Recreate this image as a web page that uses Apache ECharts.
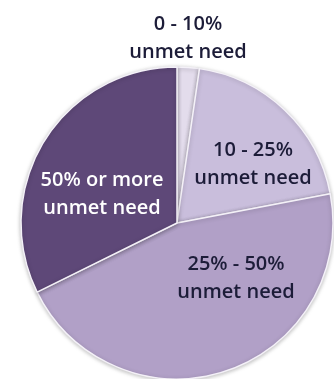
<!DOCTYPE html>
<html>
<head>
<meta charset="utf-8">
<script src="https://cdn.jsdelivr.net/npm/echarts@6/dist/echarts.min.js"></script>
<style>
html,body{margin:0;padding:0;background:#fff;}
#chart{width:334px;height:379px;}
</style>
</head>
<body>
<div id="chart"></div>
<script>
const categories = ['0 - 10%\nunmet need', '10 - 25%\nunmet need', '25% - 50%\nunmet need', '50% or more\nunmet need'];
const shares = [2.3, 19.7, 45.7, 32.3];
const sliceColors = ['#e3dcec', '#c9bedc', '#b1a0c7', '#5e4878'];
const labelColors = ['#1c1c38', '#1c1c38', '#1c1c38', '#ffffff'];
const labelSpots = [[188, 38], [253, 164], [236, 278], [102, 194]];

const chart = echarts.init(document.getElementById('chart'));
chart.setOption({
  animation: false,
  series: [{
    type: 'pie',
    center: [177, 223],
    radius: [0, 156],
    startAngle: 90,
    clockwise: true,
    avoidLabelOverlap: false,
    itemStyle: {
      borderColor: '#f4f1f8',
      borderWidth: 1.5,
      shadowBlur: 4,
      shadowColor: 'rgba(0,0,0,0.25)',
      shadowOffsetY: 1
    },
    label: {
      show: true,
      position: 'inside',
      fontFamily: 'Open Sans',
      fontSize: 20,
      fontWeight: 600,
      lineHeight: 28,
      align: 'center',
      formatter: p => p.name
    },
    labelLine: { show: false },
    labelLayout: params => ({
      x: labelSpots[params.dataIndex][0],
      y: labelSpots[params.dataIndex][1],
      align: 'center',
      verticalAlign: 'middle'
    }),
    data: categories.map((c, i) => ({
      name: c,
      value: shares[i],
      itemStyle: { color: sliceColors[i] },
      label: { color: labelColors[i] }
    }))
  }]
});
</script>
</body>
</html>
